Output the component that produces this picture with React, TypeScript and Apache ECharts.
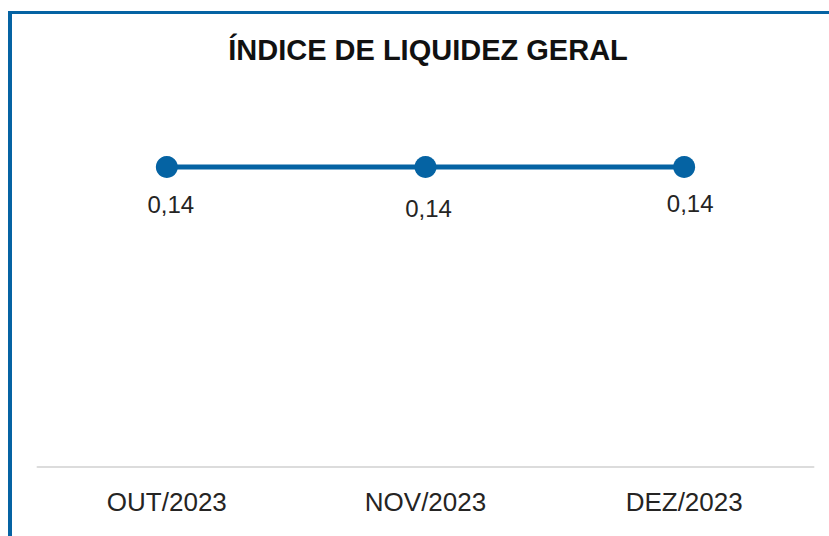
import React, { useEffect, useRef } from "react";
import * as echarts from "echarts";

const titleText = "ÍNDICE DE LIQUIDEZ GERAL";
const categories = ["OUT/2023", "NOV/2023", "DEZ/2023"];
const values = [0.14, 0.14, 0.14];

const BLUE = "#0563A3";
const labelOffsets = [
  [4, -2],
  [3, 2],
  [6, -3],
];

export default function App() {
  const ref = useRef<HTMLDivElement>(null);
  useEffect(() => {
    if (!ref.current) return;
    const chart = echarts.init(ref.current, undefined, { renderer: "svg" });
    chart.setOption({
      animation: false,
      backgroundColor: "#ffffff",
      title: {
        text: titleText,
        left: 423,
        textAlign: "center",
        top: 30,
        textStyle: {
          fontFamily: "Liberation Sans, Arial, sans-serif",
          fontWeight: "bold",
          fontSize: 29,
          color: "#111111",
        },
      },
      graphic: [
        { type: "rect", shape: { x: 8, y: 11, width: 4, height: 530 }, style: { fill: BLUE } },
        { type: "rect", shape: { x: 8, y: 11, width: 830, height: 3 }, style: { fill: BLUE } },
      ],
      grid: { left: 37.5, right: 15.5, top: 38.43, bottom: 69, containLabel: false },
      xAxis: {
        type: "category",
        data: categories,
        boundaryGap: true,
        axisLine: { show: true, lineStyle: { color: "#dcdcdc", width: 2 } },
        axisTick: { show: false },
        axisLabel: {
          margin: 22,
          fontSize: 26,
          color: "#252423",
          fontFamily: "Liberation Sans, Arial, sans-serif",
        },
        splitLine: { show: false },
      },
      yAxis: {
        type: "value",
        min: 0,
        max: 0.2,
        show: false,
        splitLine: { show: false },
      },
      series: [
        {
          type: "line",
          data: values.map((v, i) => ({
            value: v,
            label: { offset: labelOffsets[i] },
          })),
          symbol: "circle",
          symbolSize: 22,
          lineStyle: { color: BLUE, width: 5 },
          itemStyle: { color: BLUE },
          label: {
            show: true,
            position: "bottom",
            distance: 16,
            fontSize: 24,
            color: "#252423",
            fontFamily: "Liberation Sans, Arial, sans-serif",
            formatter: (p: any) => p.value.toFixed(2).replace(".", ","),
          },
        },
      ],
    });
    return () => chart.dispose();
  }, []);
  return (
    <div
      ref={ref}
      style={{ position: "absolute", left: 0, top: 0, width: 829, height: 536 }}
    />
  );
}
